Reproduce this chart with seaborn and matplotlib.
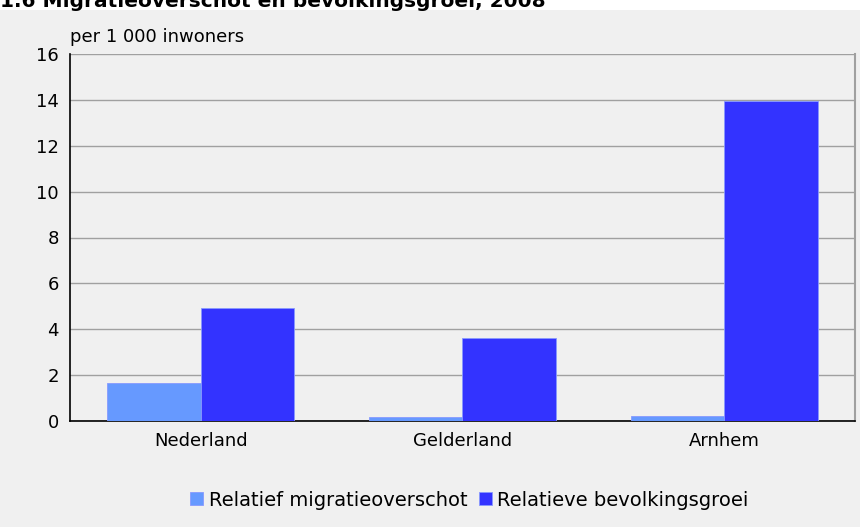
import matplotlib
matplotlib.use("Agg")
import matplotlib.pyplot as plt
import seaborn as sns
import pandas as pd
from matplotlib.patches import Rectangle

categories = ["Nederland", "Gelderland", "Arnhem"]
series_names = ["Relatief migratieoverschot", "Relatieve bevolkingsgroei"]
migratie = [1.65, 0.19, 0.2]
groei = [4.93, 3.63, 13.93]
yticks = [0, 2, 4, 6, 8, 10, 12, 14, 16]
colors = ["#6699ff", "#3333ff"]

df = pd.DataFrame({
    "regio": categories * 2,
    "reeks": [series_names[0]] * 3 + [series_names[1]] * 3,
    "waarde": migratie + groei,
})

sns.set_style("white")
plt.rcParams["font.family"] = ["DejaVu Sans"]
plt.rcParams["text.color"] = "black"

fig = plt.figure(figsize=(8.6, 5.27), dpi=100, facecolor="#f0f0f0")
fig.patches.append(Rectangle((0, 1 - 10 / 527), 1, 10 / 527, transform=fig.transFigure,
                             facecolor="white", edgecolor="none", zorder=0))
fig.text(0.0, 1 - 7 / 527, "1.6 Migratieoverschot en bevolkingsgroei, 2008",
         fontsize=14.5, fontweight="bold", va="baseline", ha="left", color="black")

ax = fig.add_axes([70 / 860, 1 - 421 / 527, (855 - 70) / 860, (421 - 54) / 527])
ax.set_facecolor("#f0f0f0")

sns.barplot(data=df, x="regio", y="waarde", hue="reeks", order=categories,
            hue_order=series_names, palette=colors, width=0.715, gap=0,
            edgecolor="#8899ff", linewidth=0.6, ax=ax, saturation=1, zorder=3)

ax.set_xlim(-0.5, 2.5)
ax.set_ylim(0, 16)
ax.set_yticks(yticks)
ax.set_yticklabels([str(t) for t in yticks], fontsize=13, color="black")
ax.tick_params(axis="x", labelsize=13, length=0, pad=8, labelcolor="black")
ax.tick_params(axis="y", length=8, direction="inout", width=1, color="black", pad=4,
               labelcolor="black")
ax.yaxis.grid(True, color="#a0a0a0", linewidth=1, zorder=1)
ax.set_axisbelow(True)
ax.set_xlabel("")
ax.set_ylabel("")

for s in ["left", "bottom"]:
    ax.spines[s].set_color("black")
    ax.spines[s].set_linewidth(1.2)
ax.spines["right"].set_color("#a0a0a0")
ax.spines["right"].set_linewidth(1.5)
ax.spines["top"].set_visible(False)

fig.text(70 / 860, 1 - 37 / 527, "per 1 000 inwoners", fontsize=13, ha="left",
         va="center", color="black")

handles, labels = ax.get_legend_handles_labels()
ax.get_legend().remove()
fig.legend(handles, labels, loc="center", bbox_to_anchor=(0.546, 1 - 500 / 527), ncol=2,
           frameon=False, fontsize=14, handlelength=0.65, handleheight=0.65,
           handletextpad=0.3, columnspacing=0.6, labelcolor="black")

fig.savefig("out.png", dpi=100, facecolor=fig.get_facecolor())
